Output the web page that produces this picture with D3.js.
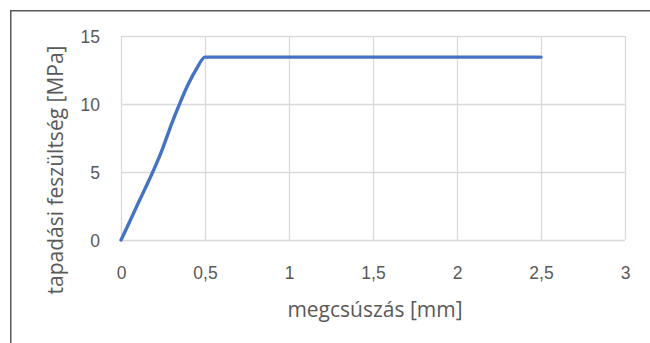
<!DOCTYPE html>
<html>
<head>
<meta charset="utf-8">
<script src="https://cdn.jsdelivr.net/npm/d3@7"></script>
<style>
  html, body { margin: 0; padding: 0; background: #fff; }
  svg { display: block; font-family: "Open Sans", sans-serif; }
</style>
</head>
<body>
<div id="chart"></div>
<script>
// slip [mm] vs bond stress [MPa]
const slip = [0, 0.05, 0.1, 0.15, 0.2, 0.25, 0.3, 0.35, 0.4, 0.45, 0.5, 1, 1.5, 2, 2.5];
const stress = [0, 1.3, 2.65, 3.95, 5.3, 6.8, 8.5, 10.05, 11.45, 12.6, 13.45, 13.45, 13.45, 13.45, 13.45];

const xTicks = [0, 0.5, 1, 1.5, 2, 2.5, 3];
const yTicks = [0, 5, 10, 15];

const xTitle = "megcsúszás [mm]";
const yTitle = "tapadási feszültség [MPa]";

const WIDTH = 650;
const HEIGHT = 343;
const PLOT = { left: 121, right: 625, top: 36, bottom: 240 };

const COLORS = {
  line: "#4472C4",
  grid: "#D9D9D9",
  text: "#595959",
  frame: "#595959",
};

const fmt = (d) => String(d).replace(".", ",");

const svg = d3
  .select("#chart")
  .append("svg")
  .attr("width", WIDTH)
  .attr("height", HEIGHT);

const x = d3.scaleLinear().domain([0, 3]).range([PLOT.left, PLOT.right]);
const y = d3.scaleLinear().domain([0, 15]).range([PLOT.bottom, PLOT.top]);

// chart frame (only left and top edges are in view)
svg
  .append("path")
  .attr("d", `M10.75,${HEIGHT} V10.75 H${WIDTH}`)
  .attr("fill", "none")
  .attr("stroke", COLORS.frame)
  .attr("stroke-width", 1.5);

// Gridlines
svg
  .append("g")
  .attr("class", "y-grid")
  .attr("transform", `translate(${PLOT.left},0)`)
  .call(d3.axisLeft(y).tickValues(yTicks).tickSize(-(PLOT.right - PLOT.left)).tickFormat(""))
  .call((g) => g.select(".domain").remove())
  .call((g) => g.selectAll("line").attr("stroke", COLORS.grid).attr("stroke-width", 1.3));

svg
  .append("g")
  .attr("class", "x-grid")
  .attr("transform", `translate(0,${PLOT.bottom})`)
  .call(d3.axisBottom(x).tickValues(xTicks).tickSize(-(PLOT.bottom - PLOT.top)).tickFormat(""))
  .call((g) => g.select(".domain").remove())
  .call((g) => g.selectAll("line").attr("stroke", COLORS.grid).attr("stroke-width", 1.3));

// Tick labels
svg
  .append("g")
  .attr("class", "y-axis")
  .attr("transform", `translate(${PLOT.left - 21},0)`)
  .call(d3.axisLeft(y).tickValues(yTicks).tickSize(0).tickPadding(0).tickFormat(fmt))
  .call((g) => g.select(".domain").remove())
  .call((g) =>
    g
      .selectAll("text")
      .attr("fill", COLORS.text)
      .style("font-size", "17.5px")
      .attr("dy", "0.35em")
  );

svg
  .append("g")
  .attr("class", "x-axis")
  .attr("transform", `translate(0,${PLOT.bottom})`)
  .call(d3.axisBottom(x).tickValues(xTicks).tickSize(0).tickPadding(0).tickFormat(fmt))
  .call((g) => g.select(".domain").remove())
  .call((g) =>
    g
      .selectAll("text")
      .attr("fill", COLORS.text)
      .style("font-size", "17.5px")
      .attr("y", 33)
      .attr("dy", "0.35em")
  );

// Axis titles
svg
  .append("text")
  .attr("x", 375)
  .attr("y", 317)
  .attr("text-anchor", "middle")
  .attr("fill", COLORS.text)
  .style("font-size", "21px")
  .text(xTitle);

svg
  .append("text")
  .attr("transform", `translate(63,170) rotate(-90)`)
  .attr("text-anchor", "middle")
  .attr("fill", COLORS.text)
  .style("font-size", "21px")
  .text(yTitle);

// Series
const points = slip.map((s, i) => [s, stress[i]]);

svg
  .append("path")
  .datum(points)
  .attr("fill", "none")
  .attr("stroke", COLORS.line)
  .attr("stroke-width", 3.4)
  .attr("stroke-linecap", "round")
  .attr("stroke-linejoin", "round")
  .attr(
    "d",
    d3
      .line()
      .x((d) => x(d[0]))
      .y((d) => y(d[1]))
      .curve(d3.curveMonotoneX)
  );
</script>
</body>
</html>
